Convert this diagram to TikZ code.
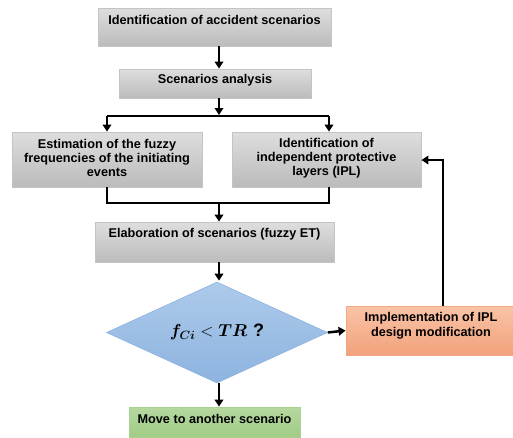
\documentclass[tikz,border=0pt]{standalone}
\usepackage{fontspec}
\setmainfont{Liberation Sans}
\usepackage{bm}
\usetikzlibrary{arrows.meta,shapes.geometric}
\definecolor{grayT}{HTML}{DEDEDE}
\definecolor{grayB}{HTML}{BBBBBB}
\definecolor{grayD}{HTML}{C4C4C4}
\definecolor{blueT}{HTML}{ADCBEB}
\definecolor{blueB}{HTML}{8DB3DF}
\definecolor{orT}{HTML}{F9C4A6}
\definecolor{orB}{HTML}{F2A17C}
\definecolor{orD}{HTML}{F0A880}
\definecolor{grT}{HTML}{B5D89F}
\definecolor{grB}{HTML}{A2CC86}
\definecolor{grD}{HTML}{A8D090}
\tikzset{
  graybox/.style={draw=grayD,line width=0.8pt,top color=grayT,bottom color=grayB,inner sep=0pt},
  txt/.style={font=\fontsize{12.7}{14}\selectfont\bfseries,align=center,inner sep=0pt},
  arr/.style={line width=2.5pt,-{Triangle[length=7pt,width=8.5pt]}},
  ln/.style={line width=2.5pt},
}
\begin{document}
\begin{tikzpicture}[x=1pt,y=-1pt]
\useasboundingbox (0,0) rectangle (513,437);
% boxes
\node[graybox,minimum width=233pt,minimum height=38pt] (b1) at (214.5,27) {};
\node[txt] (t1) at (214.5,20) {Identification of accident scenarios};
\node[graybox,minimum width=192pt,minimum height=29pt] (b2) at (215,83.5) {};
\node[txt] (t2) at (215,80.5) {Scenarios analysis};
\node[graybox,minimum width=190pt,minimum height=55pt] (b3) at (107,159.5) {};
\node[txt] (t3) at (107,157.5) {Estimation of the fuzzy\\frequencies of the initiating\\events};
\node[graybox,minimum width=189pt,minimum height=55pt] (b4) at (326.5,159.5) {};
\node[txt] (t4) at (326.5,158.5) {Identification of\\independent protective\\layers (IPL)};
\node[graybox,minimum width=239pt,minimum height=40pt] (b5) at (214.5,242) {};
\node[txt] (t5) at (214.5,234.5) {Elaboration of scenarios (fuzzy ET)};
\node[diamond,aspect=2.19,minimum width=221pt,minimum height=101pt,inner sep=0pt,
      top color=blueT,bottom color=blueB,draw=blueB,line width=0.6pt] (d) at (217,332.5) {};
\node[inner sep=0pt] (td) at (217,332) {\fontsize{18}{18}\selectfont$\bm{f_{Ci}} < \bm{TR}$\,\,\bfseries ?};
\node[draw=orD,line width=0.8pt,top color=orT,bottom color=orB,minimum width=170pt,minimum height=49pt,inner sep=0pt] (b6) at (431,330.5) {};
\node[txt,font=\fontsize{12.7}{14.6}\selectfont\bfseries] (t6) at (431,325.5) {Implementation of IPL\\design modification};
\node[draw=grD,line width=0.8pt,top color=grT,bottom color=grB,minimum width=171pt,minimum height=30pt,inner sep=0pt] (b7) at (214.5,422) {};
\node[txt] (t7) at (214.5,418.5) {Move to another scenario};
% connectors
\coordinate (c1) at (219,116);
\coordinate (c2) at (219,203);
\coordinate (fb) at (443,160);
\draw[arr] (b1.south -| c1) -- (b2.north -| c1);
\draw[arr] (b2.south -| c1) -- ([yshift=1pt]c1);
\draw[arr] (c1 -| b3.north) -- (b3.north);
\draw[ln] (c1 -| b3.north) -- (c1) -- ([xshift=2.5pt]c1 -| b4.north);
\draw[arr] ([xshift=2.5pt]c1 -| b4.north) -- ([xshift=2.5pt]b4.north);
\draw[ln] (b3.south) -- (c2 -| b3.south) -- ([xshift=2.5pt]c2 -| b4.south) -- ([xshift=2.5pt]b4.south);
\draw[arr] (c2) -- (b5.north -| c2);
\draw[arr] (b5.south -| c2) -- ([yshift=1pt]d.north -| c2);
\draw[arr] (d.east) -- (b6.west);
\draw[arr] (b6.north -| fb) -- (fb) -- (b4.east |- fb);
\draw[arr] (d.south -| c2) -- (b7.north -| c2);
\end{tikzpicture}
\end{document}
